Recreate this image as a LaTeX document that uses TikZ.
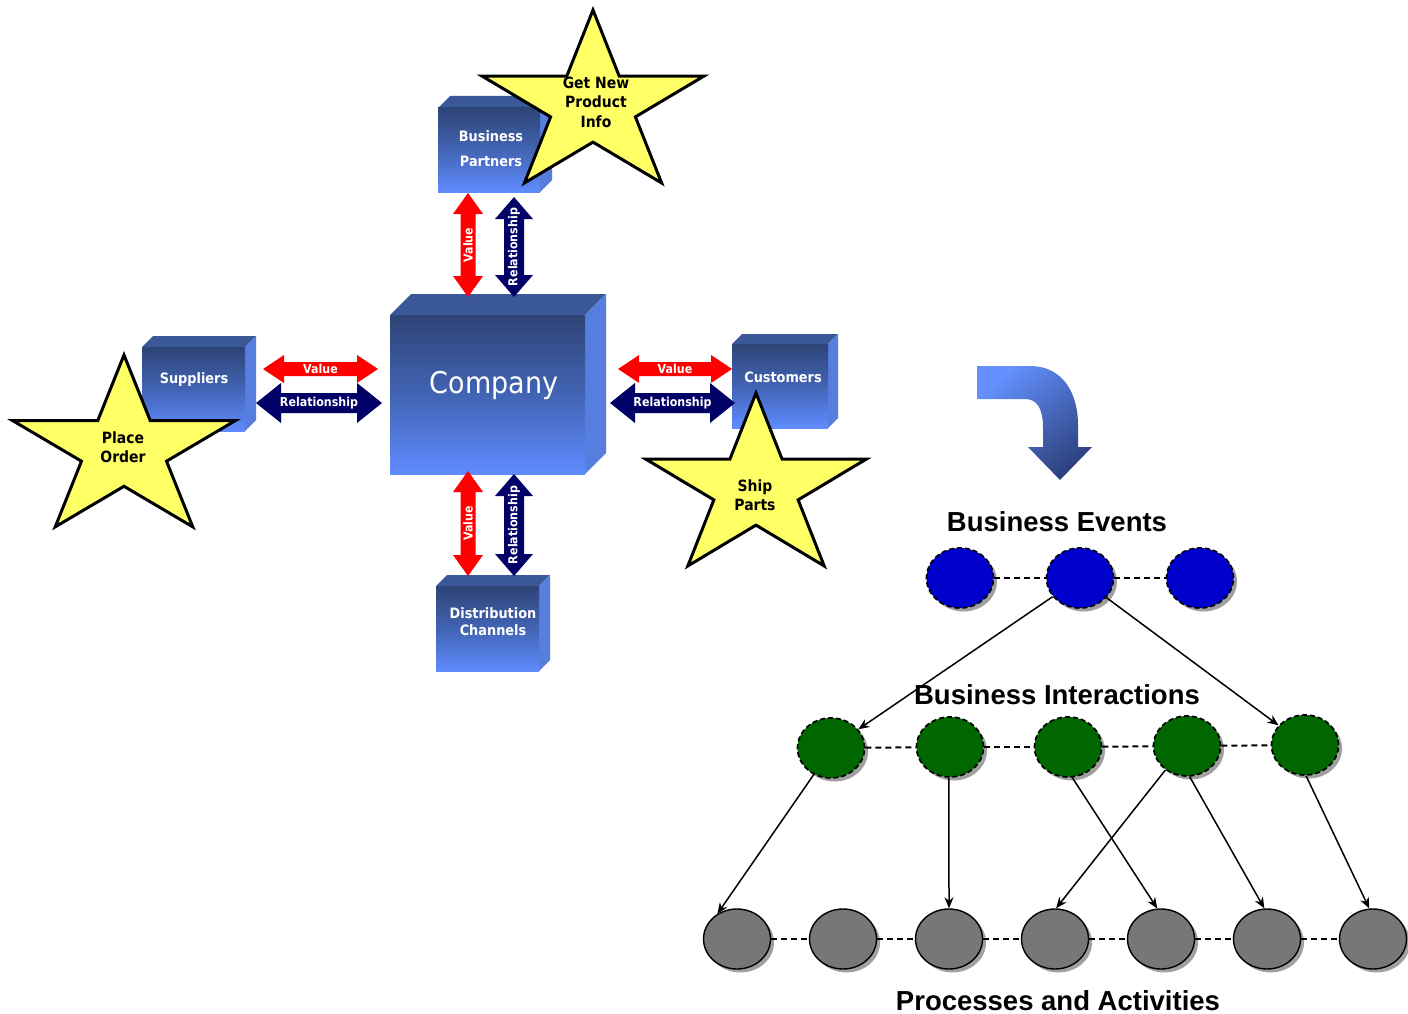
\documentclass[tikz,border=0pt]{standalone}
\usepackage{fontspec}
\setmainfont{DejaVu Sans Condensed}
\newfontfamily\hdrfont{Liberation Sans}
\usetikzlibrary{shapes.geometric,shadows,calc,arrows.meta}
\definecolor{boxdark}{RGB}{46,68,118}
\definecolor{boxmid}{RGB}{66,100,180}
\definecolor{boxlight}{RGB}{96,140,255}
\definecolor{boxtopface}{RGB}{58,87,152}
\definecolor{boxside}{RGB}{86,126,222}
\definecolor{arrred}{RGB}{255,0,0}
\definecolor{arrnavy}{RGB}{0,0,102}
\definecolor{staryellow}{RGB}{255,255,102}
\definecolor{evblue}{RGB}{0,0,204}
\definecolor{bigreen}{RGB}{0,102,0}
\definecolor{pagray}{RGB}{119,119,119}
\definecolor{shadowgray}{RGB}{160,160,160}
\definecolor{curvelight}{RGB}{100,145,255}
\definecolor{curvedark}{RGB}{45,65,125}

\newcommand\mycube[6]{%
  \fill[boxtopface] (#2,#3) -- (#2+#6,#3-#6) -- (#4+#6,#3-#6) -- (#4,#3) -- cycle;
  \fill[boxside] (#4,#3) -- (#4+#6,#3-#6) -- (#4+#6,#5-#6) -- (#4,#5) -- cycle;
  \node[frontface, minimum width={#4-#2}, minimum height={#5-#3}] (#1) at ({(#2+#4)/2},{(#3+#5)/2}) {};%
}
\newcommand\harr[9]{%
  \fill[#8] (#2,#4) -- (#2+#7,#4-#6) -- (#2+#7,#4-#5) -- (#3-#7,#4-#5) -- (#3-#7,#4-#6) -- (#3,#4)
    -- (#3-#7,#4+#6) -- (#3-#7,#4+#5) -- (#2+#7,#4+#5) -- (#2+#7,#4+#6) -- cycle;
  \node[arrtxt] (#1) at ({(#2+#3)/2},#4) {#9};%
}
\newcommand\varr[9]{%
  \fill[#8] (#2,#3) -- (#2+#6,#3+#7) -- (#2+#5,#3+#7) -- (#2+#5,#4-#7) -- (#2+#6,#4-#7) -- (#2,#4)
    -- (#2-#6,#4-#7) -- (#2-#5,#4-#7) -- (#2-#5,#3+#7) -- (#2-#6,#3+#7) -- cycle;
  \node[arrtxt, rotate=90] (#1) at (#2,{(#3+#4)/2}) {#9};%
}
\newcommand\mystar[4]{%
  \draw[starsty] (#1,#2-#4)
    \foreach \a/\r in {36/0.382,72/1,108/0.382,144/1,180/0.382,216/1,252/0.382,288/1,324/0.382}
    { -- ({#1+\r*#3*sin(\a)},{#2-\r*#4*cos(\a)}) } -- cycle;%
}

\begin{document}
\begin{tikzpicture}[x=1pt,y=-1pt,
  frontface/.style={rectangle, inner sep=0pt, top color=boxdark, bottom color=boxlight, middle color=boxmid},
  boxtxt/.style={text=white, font=\bfseries\fontsize{14.3}{17}\selectfont, align=center, inner sep=0pt},
  comptxt/.style={text=white, font=\fontsize{30}{34}\selectfont, inner sep=0pt},
  arrtxt/.style={text=white, font=\bfseries\fontsize{12.3}{14}\selectfont, inner sep=0pt},
  starsty/.style={fill=staryellow, draw=black, line width=3pt, line join=miter},
  startxt/.style={text=black, font=\bfseries\fontsize{15.5}{19.5}\selectfont, align=center, inner sep=0pt},
  hdr/.style={text=black, font=\hdrfont\bfseries\fontsize{27.5}{30}\selectfont, inner sep=0pt},
  ellbase/.style={ellipse, draw=black, minimum width=67pt, minimum height=60pt, inner sep=0pt,
    drop shadow={shadow xshift=3.5pt, shadow yshift=-3.5pt, fill=shadowgray, opacity=1}},
  evnode/.style={ellbase, fill=evblue, dash pattern=on 5pt off 3pt, line width=1.7pt},
  binode/.style={ellbase, fill=bigreen, dash pattern=on 5pt off 3pt, line width=1.7pt},
  panode/.style={ellbase, fill=pagray, line width=1.4pt},
  dashlink/.style={draw=black, dash pattern=on 6pt off 4pt, line width=2pt},
  conn/.style={draw=black, line width=1.5pt, -{Stealth[length=11pt,width=9pt]}}
]
\useasboundingbox (0,0) rectangle (1408,1014);
\fill[white] (0,0) rectangle (1408,1014);

% ---------- boxes ----------
\mycube{bp}{438}{108}{540}{192}{12}
\mycube{sup}{142}{347}{245}{431}{11}
\mycube{cus}{732}{344}{828}{428}{10}
\mycube{dis}{436}{586}{539}{671}{11}
\mycube{comp}{390}{315}{585}{474}{21}

\node[boxtxt] (bptxt1) at (491,136) {Business};
\node[boxtxt] (bptxt2) at (491,161) {Partners};
\node[boxtxt] (suptxt) at (194,380) {Suppliers};
\node[boxtxt] (custxt) at (783,377) {Customers};
\node[boxtxt] (distxt1) at (493,613) {Distribution};
\node[boxtxt] (distxt2) at (493,630) {Channels};
\node[comptxt] (comptext) at (494,385) {Company};

% ---------- block arrows ----------
\harr{lval}{263}{378}{369}{7}{14}{21}{arrred}{Value}
\harr{lrel}{256}{382}{403}{10}{20}{25}{arrnavy}{Relationship}
\harr{rval}{618}{732}{369}{7}{14}{21}{arrred}{Value}
\harr{rrel}{610}{735}{403}{10}{20}{25}{arrnavy}{Relationship}
\varr{tval}{468}{193}{297}{7.5}{15}{21}{arrred}{Value}
\varr{trel}{514}{197}{297}{10}{19}{22}{arrnavy}{Relationship}
\varr{bval}{468}{471}{576}{7.5}{15}{21}{arrred}{Value}
\varr{brel}{514}{474}{576}{10}{19}{22}{arrnavy}{Relationship}

% ---------- stars ----------
\mystar{593}{105.6}{116.7}{95.6}
\node[startxt] (stargn) at (596,102) {Get New\\Product\\Info};
\mystar{124}{450}{117}{95}
\node[startxt] (starpo) at (123,447) {Place\\Order};
\mystar{756}{488.6}{116}{95.6}
\node[startxt] (starsp) at (755,495) {Ship\\Parts};

% ---------- curved arrow ----------
\shade[top color=curvelight, bottom color=curvedark, shading angle=40]
  (977,366) -- (1030,366) .. controls (1062,366) and (1078,392) .. (1078,425) -- (1078,447)
  -- (1092,447) -- (1060,480) -- (1028,447) -- (1043,447) -- (1043,428)
  .. controls (1043,410) and (1038,399) .. (1025,399) -- (977,399) -- cycle;

% ---------- headers ----------
\node[hdr] (hev) at (1057,522) {Business Events};
\node[hdr] (hbi) at (1057,695) {Business Interactions};
\node[hdr] (hpa) at (1058,1001) {Processes and Activities};

% ---------- ellipses ----------
\node[evnode] (b1) at (960,578) {};
\node[evnode] (b2) at (1080,578) {};
\node[evnode] (b3) at (1200,578) {};

\node[binode] (g1) at (831,748) {};
\node[binode] (g2) at (950,747) {};
\node[binode] (g3) at (1068,747) {};
\node[binode] (g4) at (1187,746) {};
\node[binode] (g5) at (1305,745) {};

\node[panode] (p1) at (737,939) {};
\node[panode] (p2) at (843,939) {};
\node[panode] (p3) at (949,939) {};
\node[panode] (p4) at (1055,939) {};
\node[panode] (p5) at (1161,939) {};
\node[panode] (p6) at (1267,939) {};
\node[panode] (p7) at (1373,939) {};

% dashed links
\draw[dashlink] (b1) -- (b2);
\draw[dashlink] (b2) -- (b3);
\draw[dashlink] (g1) -- (g2);
\draw[dashlink] (g2) -- (g3);
\draw[dashlink] (g3) -- (g4);
\draw[dashlink] (g4) -- (g5);
\draw[dashlink] (p1) -- (p2);
\draw[dashlink] (p2) -- (p3);
\draw[dashlink] (p3) -- (p4);
\draw[dashlink] (p4) -- (p5);
\draw[dashlink] (p5) -- (p6);
\draw[dashlink] (p6) -- (p7);

% arrows
\draw[conn] (b2) -- (g1);
\draw[conn] (b2) -- (g5);
\draw[conn] (g1.237) -- (p1.128);
\draw[conn] (g2.268) -- (p3.90);
\draw[conn] (g3.278) -- (p5.97);
\draw[conn] (g4.228) -- (p4.88);
\draw[conn] (g4.275) -- (p6.95);
\draw[conn] (g5.272) -- (p7.97);
\end{tikzpicture}
\end{document}
